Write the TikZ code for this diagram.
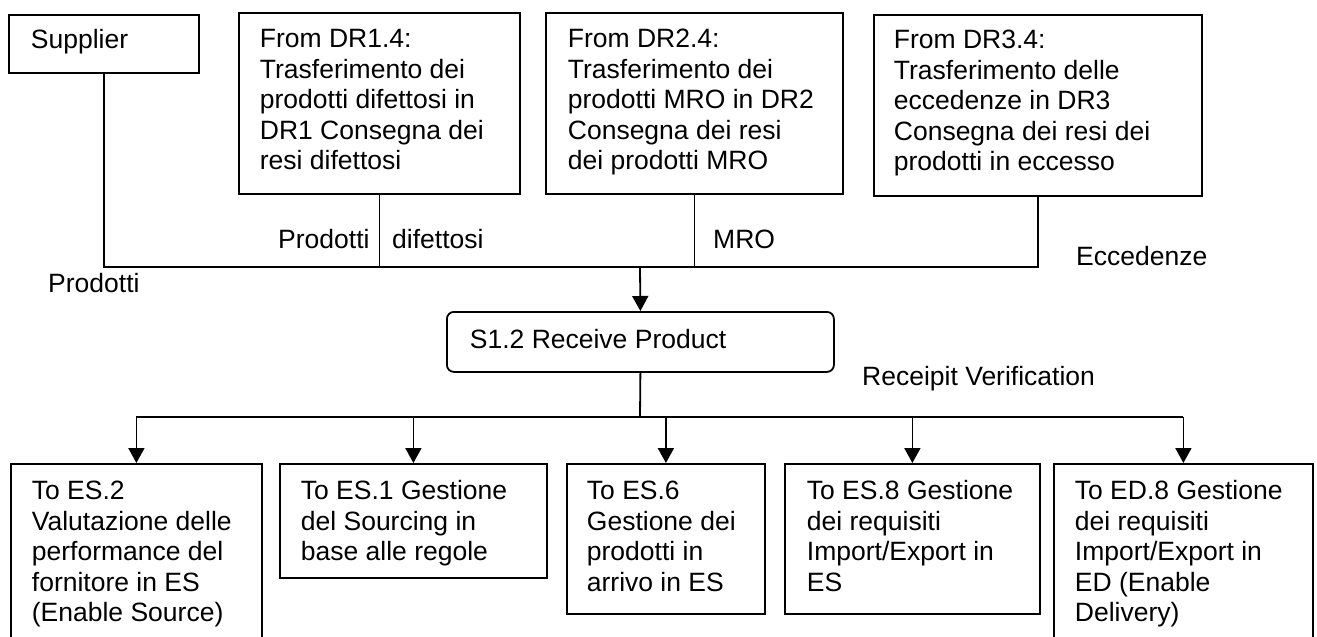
\documentclass[tikz,border=0pt]{standalone}
\usepackage{fontspec}
\setmainfont{Liberation Sans}
\usetikzlibrary{arrows.meta}

% Box text: width, height, left padding, first baseline depth, lines
\newcommand\celltext[5]{%
  \vbox to #2{\hsize=#1\relax\parindent=0pt\leftskip=#3\relax
    \rightskip=-400pt plus 1fil\relax\parfillskip=0pt plus 1fil\relax
    \baselineskip=30.4pt\lineskiplimit=-100pt\relax
    \noindent\rule{0pt}{#4}#5\par\vfill}}

\tikzset{
  every picture/.style={x=1pt,y=-1pt},
  wire/.style={line width=1.8pt},
  flow/.style={wire,-{Triangle[width=16pt,length=15pt]}},
  box/.style={draw,line width=1.8pt,inner sep=0pt,anchor=north west},
  rbox/.style={box,rounded corners=7pt},
  lab/.style={inner sep=0pt,anchor=base west},
}

\begin{document}
\begin{tikzpicture}[font=\fontsize{26.5pt}{30.4pt}\selectfont]
\useasboundingbox (0,0) rectangle (1317,637);
\clip (0,0) rectangle (1317,637);

% sources
\node[box] (sup) at (8,14) {\celltext{190pt}{58pt}{22pt}{34pt}{Supplier}};
\node[box] (dr1) at (238,12) {\celltext{281pt}{181pt}{21pt}{35pt}{From DR1.4:\\Trasferimento dei\\prodotti difettosi in\\DR1 Consegna dei\\resi difettosi}};
\node[box] (dr2) at (545,12) {\celltext{297pt}{181pt}{22pt}{35pt}{From DR2.4:\\Trasferimento dei\\prodotti MRO in DR2\\Consegna dei resi\\dei prodotti MRO}};
\node[box] (dr3) at (873,14) {\celltext{328pt}{181pt}{20pt}{34pt}{From DR3.4:\\Trasferimento delle\\eccedenze in DR3\\Consegna dei resi dei\\prodotti in eccesso}};

% process
\node[rbox] (s12) at (446,311) {\celltext{387pt}{60pt}{23pt}{37pt}{S1.2 Receive Product}};

% destinations
\node[box] (es2) at (10,463) {\celltext{251pt}{200pt}{21pt}{36pt}{To ES.2\\Valutazione delle\\performance del\\fornitore in ES\\(Enable Source)}};
\node[box] (es1) at (279,463) {\celltext{267pt}{114pt}{21pt}{36pt}{To ES.1 Gestione\\del Sourcing in\\base alle regole}};
\node[box] (es6) at (566,463) {\celltext{198pt}{150pt}{20pt}{36pt}{To ES.6\\Gestione dei\\prodotti in\\arrivo in ES}};
\node[box] (es8) at (784,463) {\celltext{255pt}{150pt}{22pt}{36pt}{To ES.8 Gestione\\dei requisiti\\Import/Export in\\ES}};
\node[box] (ed8) at (1053,463) {\celltext{259pt}{200pt}{21pt}{36pt}{To ED.8 Gestione\\dei requisiti\\Import/Export in\\ED (Enable\\Delivery)}};

% junction points
\coordinate (bus) at (640,267);
\coordinate (fan) at (640,417);

% inbound connectors
\draw[wire] (sup.south) |- (bus) -| (dr3.south);
\draw[wire] (dr1.south) -- (dr1.south |- bus);
\draw[wire] (dr2.south) -- (dr2.south |- bus);
\draw[flow] (bus) -- (s12.north);

% outbound connectors
\draw[wire] (s12.south) -- (fan);
\draw[wire] (es2.north |- fan) -- (ed8.north |- fan);
\foreach \t in {es2,es1,es6,es8,ed8}
  \draw[flow] (\t.north |- fan) -- (\t.north);

% flow labels
\node[lab] (lprod) at (48,292) {Prodotti};
\node[lab] (lprod2) at (278,248) {Prodotti};
\node[lab] (ldif) at (392,248) {difettosi};
\node[lab] (lmro) at (713,248) {MRO};
\node[lab] (lecc) at (1076,265) {Eccedenze};
\node[lab] (lver) at (862,385) {Receipit Verification};
\end{tikzpicture}
\end{document}
